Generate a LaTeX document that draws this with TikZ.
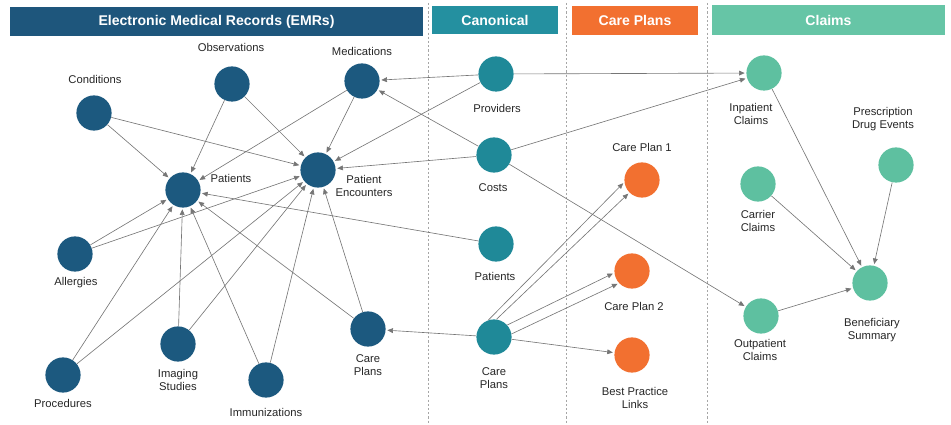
\documentclass[tikz,border=0pt]{standalone}
\usepackage{fontspec}
\setmainfont{Liberation Sans}
\usepackage{tikz}
\usetikzlibrary{arrows.meta, positioning}
\tikzset{font=\fontsize{8}{9.6}\selectfont}
\definecolor{emrblue}{RGB}{28,89,127}
\definecolor{canonteal}{RGB}{31,137,152}
\definecolor{planorange}{RGB}{242,112,48}
\definecolor{claimgreen}{RGB}{94,192,160}
\definecolor{emrhead}{RGB}{30,86,124}
\definecolor{canonhead}{RGB}{36,144,160}
\definecolor{claimhead}{RGB}{102,197,166}
\definecolor{edgegray}{RGB}{118,118,118}
\definecolor{labelgray}{RGB}{38,38,38}

\begin{document}
\begin{tikzpicture}[->,>={Triangle[length=4pt,width=3.4pt]},shorten >=1pt,
                    x=0.025cm,y=-0.025cm,line width=0.45pt,color=edgegray]
  \tikzstyle{ent}=[circle,draw=none,minimum size=0.88cm,inner sep=0pt]
  \tikzstyle{emr}=[ent,fill=emrblue]
  \tikzstyle{canon}=[ent,fill=canonteal]
  \tikzstyle{plan}=[ent,fill=planorange]
  \tikzstyle{claim}=[ent,fill=claimgreen]
  \tikzstyle{txt}=[align=center,inner sep=0pt,text=labelgray]
  \tikzstyle{head}=[draw=none,text=white,inner sep=0pt,
                    font=\bfseries\fontsize{10}{12}\selectfont]

  \useasboundingbox (0,0) rectangle (951,425);

  % column headers
  \node[head,fill=emrhead,minimum width=10.325cm,minimum height=0.725cm]
       (emr-h) at (216.5,21.5) {Electronic Medical Records (EMRs)};
  \node[head,fill=canonhead,minimum width=3.15cm,minimum height=0.7cm]
       (canon-h) at (495,20) {Canonical};
  \node[head,fill=planorange,minimum width=3.15cm,minimum height=0.725cm]
       (plan-h) at (635,20.5) {Care Plans};
  \node[head,fill=claimhead,minimum width=5.825cm,minimum height=0.75cm]
       (claim-h) at (828.5,20) {Claims};

  % dividers
  \foreach \x in {428,566,707}
    \draw[-,shorten >=0pt,draw=gray!70,line width=0.4pt,dash pattern=on 1.5pt off 1.5pt]
      (\x,3) -- (\x,425);

  % EMRs
  \node[emr]         (cond) at (94, 113)        {};
  \node[emr]         (obs) at (232, 84)         {};
  \node[emr]         (med) at (362, 81)         {};
  \node[emr]         (pat) at (183, 190)        {};
  \node[emr]         (enc) at (318, 170)        {};
  \node[emr]         (all) at (75, 254)         {};
  \node[emr]         (proc) at (63, 375)        {};
  \node[emr]         (img) at (178, 344)        {};
  \node[emr]         (imm) at (266, 380)        {};
  \node[emr]         (cpe) at (368, 329)        {};

  % canonical
  \node[canon]       (prov) at (496, 74)        {};
  \node[canon]       (cost) at (494, 155)       {};
  \node[canon]       (patc) at (496, 244)       {};
  \node[canon]       (cpc) at (494, 337)        {};

  % care plans
  \node[plan]        (cp1) at (642, 180)        {};
  \node[plan]        (cp2) at (632, 271)        {};
  \node[plan]        (bpl) at (632, 355)        {};

  % claims
  \node[claim]       (inp) at (764, 73)         {};
  \node[claim]       (car) at (758, 184)        {};
  \node[claim]       (rx) at (896, 165)         {};
  \node[claim]       (outp) at (761, 316)       {};
  \node[claim]       (ben) at (870, 283)        {};

  % labels
  \node[txt] (cond-t) at (95, 79)   {Conditions};
  \node[txt] (obs-t) at (231, 47)   {Observations};
  \node[txt] (med-t) at (362, 51)   {Medications};
  \node[txt] (pat-t) at (231, 178)  {Patients};
  \node[txt] (enc-t) at (364, 186)  {Patient\\Encounters};
  \node[txt] (all-t) at (76, 283)   {Allergies};
  \node[txt] (proc-t) at (63, 403)  {Procedures};
  \node[txt] (img-t) at (178, 380)  {Imaging\\Studies};
  \node[txt] (imm-t) at (266, 412)  {Immunizations};
  \node[txt] (cpe-t) at (368, 365)  {Care\\Plans};
  \node[txt] (prov-t) at (497, 108) {Providers};
  \node[txt] (cost-t) at (493, 188) {Costs};
  \node[txt] (patc-t) at (495, 276) {Patients};
  \node[txt] (cpc-t) at (494, 378)  {Care\\Plans};
  \node[txt] (cp1-t) at (642, 147)  {Care Plan 1};
  \node[txt] (cp2-t) at (634, 306)  {Care Plan 2};
  \node[txt] (bpl-t) at (635, 398)  {Best Practice\\Links};
  \node[txt] (inp-t) at (751, 114)  {Inpatient\\Claims};
  \node[txt] (rx-t) at (883, 119)   {Prescription\\Drug Events};
  \node[txt] (car-t) at (758, 221)  {Carrier\\Claims};
  \node[txt] (outp-t) at (760, 350) {Outpatient\\Claims};
  \node[txt] (ben-t) at (872, 330)  {Beneficiary\\Summary};

  \path (cond) edge (pat)
               edge (enc)
        (obs)  edge (pat)
               edge (enc)
        (med)  edge (pat)
               edge (enc)
        (all)  edge (pat)
               edge (enc)
        (proc) edge (pat)
               edge (enc)
        (img)  edge (pat)
               edge (enc)
        (imm)  edge (pat)
               edge (enc)
        (cpe)  edge (pat)
               edge (enc);
  \path (prov) edge (med)
               edge (enc)
               edge (inp)
        (cost) edge (med)
               edge (enc)
               edge (inp)
               edge (outp)
        (patc) edge (pat)
        (cpc)  edge (cpe)
               edge (bpl);
  \draw (cpc.108) -- (cp1.187);
  \draw (cpc.82) -- (cp1.225);
  \draw (cpc.42) -- (cp2.186);
  \draw (cpc.10) -- (cp2.223);
  \path (inp)  edge (ben)
        (car)  edge (ben)
        (rx)   edge (ben)
        (outp) edge (ben);
\end{tikzpicture}
\end{document}
